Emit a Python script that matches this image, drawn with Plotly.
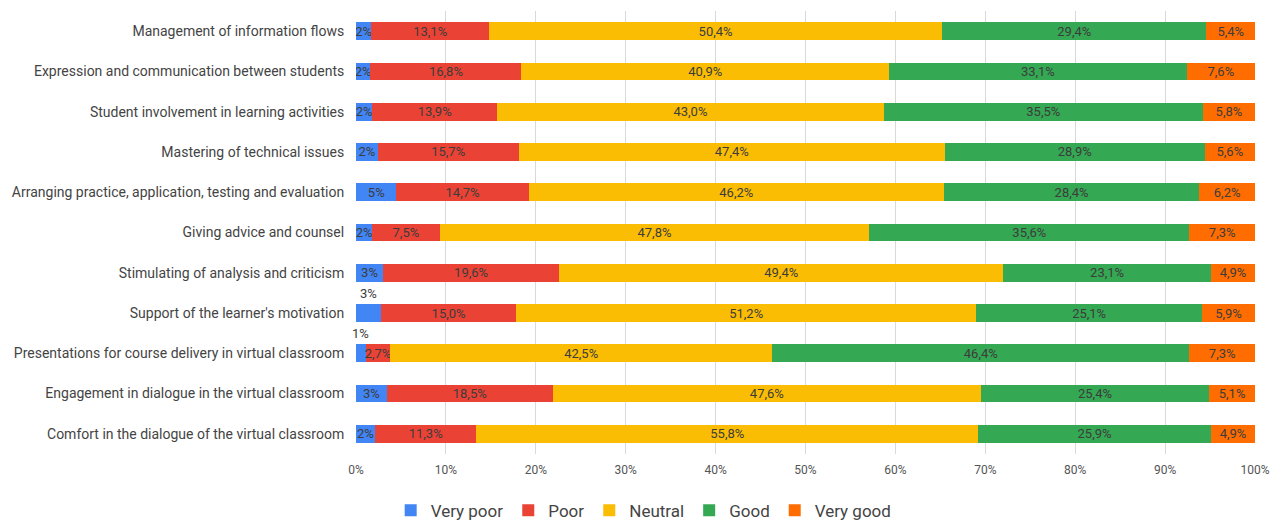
import math
import plotly.graph_objects as go

categories = [
    "Management of information flows",
    "Expression and communication between students",
    "Student involvement in learning activities",
    "Mastering of technical issues",
    "Arranging practice, application, testing and evaluation",
    "Giving advice and counsel",
    "Stimulating of analysis and criticism",
    "Support of the learner's motivation",
    "Presentations for course delivery in virtual classroom",
    "Engagement in dialogue in the virtual classroom",
    "Comfort in the dialogue of the virtual classroom",
]
very_poor = [1.7, 1.6, 1.8, 2.4, 4.5, 1.8, 3.0, 2.8, 1.1, 3.4, 2.1]
poor = [13.1, 16.8, 13.9, 15.7, 14.7, 7.5, 19.6, 15.0, 2.7, 18.5, 11.3]
neutral = [50.4, 40.9, 43.0, 47.4, 46.2, 47.8, 49.4, 51.2, 42.5, 47.6, 55.8]
good = [29.4, 33.1, 35.5, 28.9, 28.4, 35.6, 23.1, 25.1, 46.4, 25.4, 25.9]
very_good = [5.4, 7.6, 5.8, 5.6, 6.2, 7.3, 4.9, 5.9, 7.3, 5.1, 4.9]
# very-poor labels that sit above the bar (segment too narrow)
outside_rows = [7, 8]

series = [
    ("Very poor", very_poor, "#4285F4"),
    ("Poor", poor, "#EA4335"),
    ("Neutral", neutral, "#FBBC04"),
    ("Good", good, "#34A853"),
    ("Very good", very_good, "#FF6D01"),
]

FONT = "Roboto, Arial, sans-serif"

def fmt(v, integer=False):
    if integer:
        return f"{int(math.floor(v + 0.5))}%"
    return f"{v:.1f}%".replace(".", ",")

fig = go.Figure()
for name, vals, color in series:
    is_vp = name == "Very poor"
    texts = []
    for i, v in enumerate(vals):
        if is_vp and i in outside_rows:
            texts.append("")
        else:
            texts.append(fmt(v, integer=is_vp))
    fig.add_trace(go.Bar(
        y=categories, x=vals, name=name, orientation="h",
        marker=dict(color=color, line=dict(width=0)),
        text=texts, textposition="inside", insidetextanchor="middle",
        textangle=0, constraintext="none",
        textfont=dict(color="#3c3c3c", size=13, family=FONT),
        hoverinfo="x+y+name",
    ))

for i in outside_rows:
    fig.add_annotation(
        x=very_poor[i] / 2, y=categories[i], text=fmt(very_poor[i], integer=True),
        showarrow=False, yshift=20, font=dict(color="#3c3c3c", size=13, family=FONT),
    )

fig.update_layout(
    barmode="stack",
    bargap=0.56,
    width=1278, height=524,
    margin=dict(l=348, r=31, t=3, b=76),
    plot_bgcolor="white", paper_bgcolor="white",
    font=dict(family=FONT, color="#444"),
    uniformtext=dict(minsize=13, mode="show"),
    legend=dict(
        orientation="h", x=0.32, xanchor="center", y=-0.128, yanchor="middle",
        font=dict(size=17, color="#444", family=FONT), traceorder="normal",
        itemwidth=30,
    ),
    xaxis=dict(
        range=[0, 100], tickvals=[0, 10, 20, 30, 40, 50, 60, 70, 80, 90, 100],
        ticktext=[f"{t}%" for t in range(0, 101, 10)],
        showgrid=True, gridcolor="#d9d9d9", gridwidth=1,
        zeroline=False, showline=False,
        tickfont=dict(size=12, color="#555", family=FONT),
        ticks="outside", ticklen=5, tickcolor="white",
    ),
    yaxis=dict(
        autorange="reversed", showgrid=False,
        tickfont=dict(size=14, color="#444", family=FONT),
        ticks="outside", ticklen=8, tickcolor="white",
    ),
)

fig.write_html("out.html")
